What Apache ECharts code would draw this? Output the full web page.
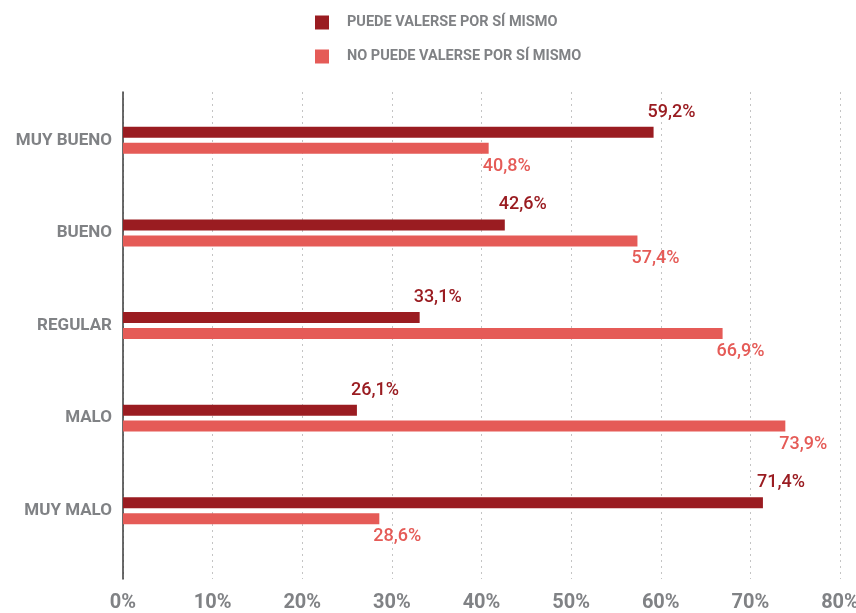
<!DOCTYPE html>
<html>
<head>
<meta charset="utf-8">
<style>
  html, body { margin: 0; padding: 0; background: #ffffff; }
  #chart { width: 856px; height: 613px; }
</style>
<script src="https://cdn.jsdelivr.net/npm/echarts@6/dist/echarts.min.js"></script>
</head>
<body>
<div id="chart"></div>
<script>
// Health self-rating vs. whether the person can look after themselves
const categories = ['MUY BUENO', 'BUENO', 'REGULAR', 'MALO', 'MUY MALO'];
const puedeValerse = [59.2, 42.6, 33.1, 26.1, 71.4];
const noPuedeValerse = [40.8, 57.4, 66.9, 73.9, 28.6];
const seriesNames = ['PUEDE VALERSE POR SÍ MISMO', 'NO PUEDE VALERSE POR SÍ MISMO'];
const xTicks = [0, 10, 20, 30, 40, 50, 60, 70, 80];

const DARK = '#9a1c21';
const LIGHT = '#e55b57';
const GRAY = '#808285';
const FONT = 'Roboto, "DejaVu Sans Condensed", sans-serif';

const fmt = v => v.toFixed(1).replace('.', ',') + '%';

const chart = echarts.init(document.getElementById('chart'), null, { renderer: 'canvas' });

chart.setOption({
  animation: false,
  backgroundColor: '#ffffff',
  legend: {
    orient: 'vertical',
    left: 315,
    top: 15,
    padding: 0,
    itemWidth: 14,
    itemHeight: 14,
    itemGap: 19,
    icon: 'rect',
    data: seriesNames,
    textStyle: {
      color: GRAY,
      fontFamily: FONT,
      fontWeight: 'bold',
      fontSize: 14.5,
      lineHeight: 14,
      padding: [0, 0, 0, 13]
    }
  },
  grid: [
    // bars
    { left: 123, right: 16, top: 94, bottom: 56, outerBoundsMode: 'none' },
    // gridlines, frame line and tick labels
    { left: 123, right: 16, top: 92, bottom: 34, outerBoundsMode: 'none' }
  ],
  xAxis: [
    {
      gridIndex: 0, type: 'value', min: 0, max: 80, interval: 10,
      show: false
    },
    {
      gridIndex: 1, type: 'value', min: xTicks[0], max: xTicks[xTicks.length - 1], interval: 10,
      axisLine: { show: false },
      axisTick: { show: false },
      splitLine: { show: true, lineStyle: { color: '#c4c4c4', type: [2, 4], width: 1 } },
      axisLabel: {
        color: GRAY, fontFamily: FONT, fontWeight: 'bold', fontSize: 20,
        margin: 14,
        formatter: v => v + '%'
      }
    }
  ],
  yAxis: [
    {
      gridIndex: 0, type: 'category', data: categories, inverse: true,
      axisLine: { show: false },
      axisTick: { show: false },
      axisLabel: {
        color: GRAY, fontFamily: FONT, fontWeight: 'bold', fontSize: 17, margin: 11
      }
    },
    {
      gridIndex: 1, type: 'value', min: 0, max: 1,
      axisLine: { show: true, lineStyle: { color: '#3a3a3a', width: 1.5 } },
      axisTick: { show: false },
      axisLabel: { show: false },
      splitLine: { show: false }
    }
  ],
  series: [
    {
      name: seriesNames[0], type: 'bar', xAxisIndex: 0, yAxisIndex: 0,
      data: puedeValerse, barWidth: 11, barGap: '45%',
      itemStyle: { color: DARK },
      label: {
        show: true, position: ['100%', '50%'], align: 'left', verticalAlign: 'middle',
        offset: [-6, -20],
        color: DARK, fontFamily: FONT, fontWeight: 500, fontSize: 18,
        formatter: p => fmt(p.value)
      }
    },
    {
      name: seriesNames[1], type: 'bar', xAxisIndex: 0, yAxisIndex: 0,
      data: noPuedeValerse, barWidth: 11,
      itemStyle: { color: LIGHT },
      label: {
        show: true, position: ['100%', '50%'], align: 'left', verticalAlign: 'middle',
        offset: [-6, 18],
        color: LIGHT, fontFamily: FONT, fontWeight: 500, fontSize: 18,
        formatter: p => fmt(p.value)
      }
    }
  ]
});
</script>
</body>
</html>
